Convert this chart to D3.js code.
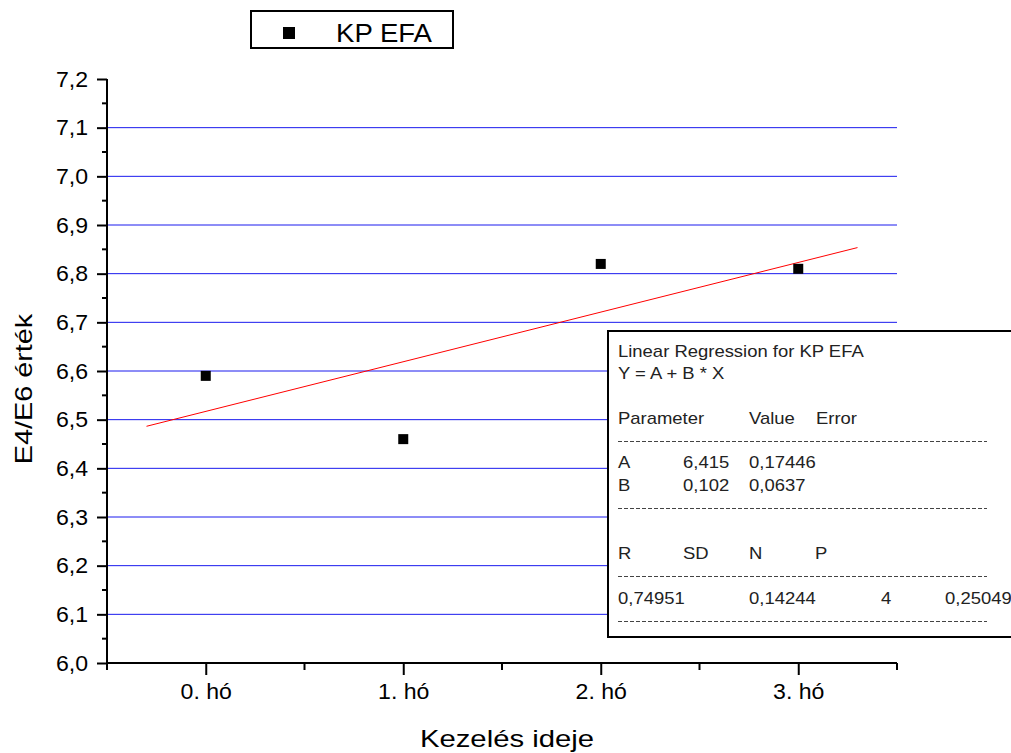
<!DOCTYPE html>
<html><head><meta charset="utf-8">
<script src="https://cdn.jsdelivr.net/npm/d3@7"></script>
<style>body{margin:0;background:#fff}svg{display:block;font-family:"Liberation Sans",Arial,sans-serif}</style>
</head><body><svg id="c" width="1011" height="753"></svg>
<script>
const categories = ["0. hó","1. hó","2. hó","3. hó"];
const values = [6.59, 6.46, 6.82, 6.81];
const seriesName = "KP EFA";
const yTicks = [6.0,6.1,6.2,6.3,6.4,6.5,6.6,6.7,6.8,6.9,7.0,7.1,7.2];
const gridTicks = [6.1,6.2,6.3,6.4,6.5,6.6,6.7,6.8,6.9,7.0,7.1];
const regA = 6.415, regB = 0.102;
const fitRange = [-0.3, 3.3];
const statsTitle = ["Linear Regression for KP EFA", "Y = A + B * X"];
const statsHeader = ["Parameter","Value","Error"];
const statsRows = [["A","6,415","0,17446"],["B","0,102","0,0637"]];
const statsHeader2 = ["R","SD","N","P"];
const statsRow2 = ["0,74951","0,14244","4","0,25049"];

const svg = d3.select("#c");
const x = d3.scaleLinear().domain([-0.5, 3.5]).range([107, 897]);
const y = d3.scaleLinear().domain([6.0, 7.2]).range([663, 79]);
const fmt = v => d3.format(".1f")(v).replace(".", ",");
function stretch(sel, k) {
  sel.each(function() {
    const w = this.getComputedTextLength();
    d3.select(this).attr("textLength", w * k).attr("lengthAdjust", "spacingAndGlyphs");
  });
}

// grid
svg.append("g").selectAll("line").data(gridTicks).join("line")
  .attr("x1", 107).attr("x2", 897).attr("y1", d => y(d)).attr("y2", d => y(d))
  .attr("stroke", "#1a1aee").attr("stroke-width", 1);

// y axis
const yAxis = d3.axisLeft(y).tickValues(yTicks).tickFormat(fmt).tickSize(10).tickPadding(9);
const gy = svg.append("g").attr("transform", "translate(107,0)").call(yAxis);
gy.select(".domain").attr("stroke-width", 2).attr("d", `M0,${y(7.2)}V${y(6.0)}`);
gy.selectAll(".tick line").attr("stroke-width", 2);
gy.selectAll("text").attr("font-size", 22).attr("font-family", "Liberation Sans, Arial").attr("fill", "#000").call(stretch, 1.05);
const yMinor = d3.range(6.05, 7.2, 0.1);
gy.append("g").selectAll("line").data(yMinor).join("line")
  .attr("x1", -5).attr("x2", 0).attr("y1", d => y(d)).attr("y2", d => y(d))
  .attr("stroke", "#000").attr("stroke-width", 2);

// x axis
const xAxis = d3.axisBottom(x).tickValues(d3.range(categories.length)).tickFormat(i => categories[i]).tickSize(12).tickPadding(8);
const gx = svg.append("g").attr("transform", "translate(0,663)").call(xAxis);
gx.select(".domain").attr("stroke-width", 2).attr("d", `M${x(-0.5)},0H${x(3.5)}`);
gx.selectAll(".tick line").attr("stroke-width", 2);
gx.selectAll("text").attr("font-size", 22).attr("font-family", "Liberation Sans, Arial").attr("fill", "#000").call(stretch, 1.05);
gx.append("g").selectAll("line").data([-0.5,0.5,1.5,2.5,3.5]).join("line")
  .attr("x1", d => x(d)).attr("x2", d => x(d)).attr("y1", 0).attr("y2", 7)
  .attr("stroke", "#000").attr("stroke-width", 2);

// titles
svg.append("text").attr("x", 507).attr("y", 747).attr("text-anchor", "middle")
  .attr("font-size", 24).text("Kezelés ideje").call(stretch, 1.22);
svg.append("text").attr("transform", "translate(32,389) rotate(-90)").attr("text-anchor", "middle")
  .attr("font-size", 24).text("E4/E6 érték").call(stretch, 1.2);

// regression line (regression x = index+1)
svg.append("line")
  .attr("x1", x(fitRange[0])).attr("y1", y(regA + regB * (fitRange[0] + 1)))
  .attr("x2", x(fitRange[1])).attr("y2", y(regA + regB * (fitRange[1] + 1)))
  .attr("stroke", "#ff0000").attr("stroke-width", 1);

// points
svg.append("g").selectAll("rect").data(values).join("rect")
  .attr("x", (d, i) => x(i) - 5).attr("y", d => y(d) - 5)
  .attr("width", 10).attr("height", 10).attr("fill", "#000");

// legend
const lg = svg.append("g");
lg.append("rect").attr("x", 251).attr("y", 11).attr("width", 202).attr("height", 37)
  .attr("fill", "#fff").attr("stroke", "#000").attr("stroke-width", 2);
lg.append("rect").attr("x", 283).attr("y", 27).attr("width", 12).attr("height", 12).attr("fill", "#000");
lg.append("text").attr("x", 336).attr("y", 42).attr("font-size", 26).text(seriesName).call(stretch, 1.06);

// stats box
const sb = svg.append("g");
sb.append("rect").attr("x", 608).attr("y", 331).attr("width", 420).attr("height", 306)
  .attr("fill", "#fff").attr("stroke", "#000").attr("stroke-width", 2);
const fs = 17;
const t = (s, xx, yy) => sb.append("text").attr("x", xx).attr("y", yy).attr("font-size", fs)
  .attr("fill", "#222").text(s).call(stretch, 1.085);
t(statsTitle[0], 618, 357);
t(statsTitle[1], 618, 379);
[618, 749, 816].forEach((xx, i) => t(statsHeader[i], xx, 424));
statsRows.forEach((r, j) => [618, 683, 749].forEach((xx, i) => t(r[i], xx, 468 + j * 23)));
[618, 683, 749, 815].forEach((xx, i) => t(statsHeader2[i], xx, 559));
[618, 749, 881, 945].forEach((xx, i) => t(statsRow2[i], xx, 604));
[441, 508, 576, 621].forEach(yy => sb.append("line").attr("x1", 618).attr("x2", 987)
  .attr("y1", yy + 0.5).attr("y2", yy + 0.5).attr("stroke", "#444").attr("stroke-width", 1)
  .attr("stroke-dasharray", "4,2"));
</script></body></html>
